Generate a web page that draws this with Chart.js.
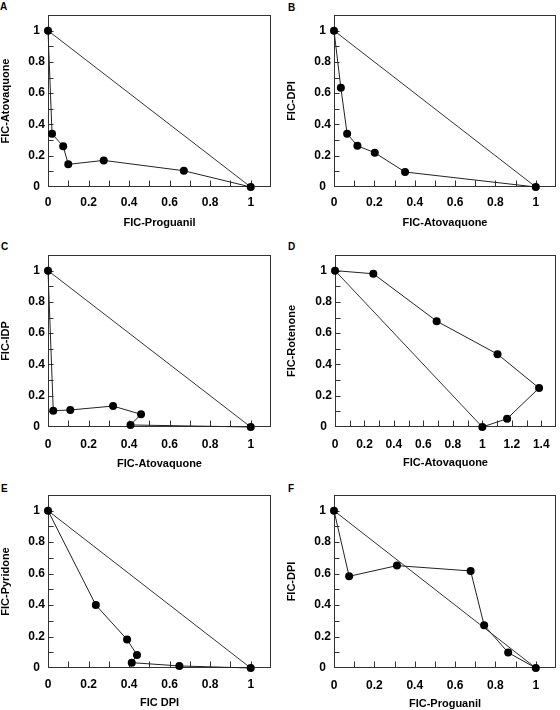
<!DOCTYPE html>
<html lang="en">
<head>
<meta charset="UTF-8">
<title>FIC isobolograms</title>
<script src="https://cdn.jsdelivr.net/npm/chart.js@4.4.1/dist/chart.umd.min.js"></script>
<style>
  html, body { margin: 0; padding: 0; background: #fff; }
  body { width: 560px; height: 710px; position: relative; overflow: hidden; font-family: "Liberation Sans", Arial, sans-serif; }
  canvas.panel { position: absolute; }
  .letter { position: absolute; font-size: 10px; font-weight: bold; line-height: 10px; color: #000; }
</style>
</head>
<body>
<div class="letter" style="left:0px;top:2px">A</div>
<div class="letter" style="left:288px;top:3px">B</div>
<div class="letter" style="left:1px;top:242px">C</div>
<div class="letter" style="left:288px;top:242px">D</div>
<div class="letter" style="left:1px;top:484px">E</div>
<div class="letter" style="left:288px;top:484px">F</div>

<canvas id="chart-a" class="panel" style="left:0px;top:0px" width="280" height="236"></canvas>
<canvas id="chart-b" class="panel" style="left:280px;top:0px" width="280" height="236"></canvas>
<canvas id="chart-c" class="panel" style="left:0px;top:236px" width="280" height="236"></canvas>
<canvas id="chart-d" class="panel" style="left:280px;top:236px" width="280" height="236"></canvas>
<canvas id="chart-e" class="panel" style="left:0px;top:472px" width="280" height="238"></canvas>
<canvas id="chart-f" class="panel" style="left:280px;top:472px" width="280" height="238"></canvas>

<script>
// tick labels
const ticksTo1 = [0, 0.2, 0.4, 0.6, 0.8, 1];
const ticksTo14 = [0, 0.2, 0.4, 0.6, 0.8, 1, 1.2, 1.4];
const minorStep = 0.1;

// line of additivity
const addX = [0, 1];
const addY = [1, 0];

// A: proguanil vs atovaquone
const aX = [0, 0.02, 0.075, 0.1, 0.275, 0.67, 1];
const aY = [1, 0.34, 0.26, 0.145, 0.17, 0.104, 0];
// B: atovaquone vs DPI
const bX = [0, 0.034, 0.065, 0.116, 0.202, 0.352, 1];
const bY = [1, 0.634, 0.34, 0.264, 0.219, 0.096, 0];
// C: atovaquone vs IDP
const cX = [0, 0.026, 0.11, 0.321, 0.459, 0.407, 1];
const cY = [1, 0.104, 0.109, 0.134, 0.081, 0.013, 0];
// D: atovaquone vs rotenone
const dX = [0, 0.26, 0.69, 1.103, 1.385, 1.168, 1];
const dY = [1, 0.98, 0.677, 0.466, 0.249, 0.053, 0];
// E: DPI vs pyridone
const eX = [0, 0.236, 0.39, 0.439, 0.413, 0.648, 1];
const eY = [1, 0.4, 0.181, 0.083, 0.034, 0.013, 0];
// F: proguanil vs DPI
const fX = [0, 0.075, 0.312, 0.677, 0.744, 0.863, 1];
const fY = [1, 0.583, 0.651, 0.617, 0.272, 0.098, 0];

const labelFont = { family: '"Liberation Sans", Arial, sans-serif', size: 12, weight: 'bold' };
const titleFont = { family: '"Liberation Sans", Arial, sans-serif', size: 11, weight: 'bold', lineHeight: 1 };

// box around the plot and inward tick marks
const framePlugin = {
    id: 'frame',
    beforeDatasetsDraw(chart) {
        const { ctx, chartArea: a, scales: { x, y } } = chart;
        const L = Math.round(a.left) + 0.5, R = Math.round(a.right) - 0.5;
        const T = Math.round(a.top) + 0.5, B = Math.round(a.bottom) - 0.5;
        ctx.save();
        ctx.strokeStyle = '#333';
        ctx.lineWidth = 1;
        ctx.strokeRect(L, T, R - L, B - T);
        ctx.beginPath();
        for (let i = 1; i * minorStep < x.max - 1e-6; i++) {
            const px = Math.round(x.getPixelForValue(i * minorStep)) + 0.5;
            ctx.moveTo(px, B);
            ctx.lineTo(px, B - 6);
        }
        for (let i = 1; i * minorStep < y.max - 1e-6; i++) {
            const py = Math.round(y.getPixelForValue(i * minorStep)) + 0.5;
            ctx.moveTo(L, py);
            ctx.lineTo(L + 5, py);
        }
        ctx.stroke();
        ctx.restore();
    }
};

function makePanel(id, xs, ys, xTitle, yTitle, xMax, xTicks, box) {
    const pts = xs.map((x, i) => ({ x: x, y: ys[i] }));
    const diag = addX.map((x, i) => ({ x: x, y: addY[i] }));
    return new Chart(document.getElementById(id), {
        type: 'scatter',
        data: {
            datasets: [{
                data: pts,
                showLine: true,
                borderColor: '#222',
                borderWidth: 1,
                pointRadius: 4,
                pointBackgroundColor: '#000',
                pointBorderColor: '#000',
                pointBorderWidth: 0,
                clip: false
            }, {
                data: diag,
                showLine: true,
                borderColor: '#333',
                borderWidth: 1,
                pointRadius: 0,
                clip: false
            }]
        },
        options: {
            responsive: false,
            animation: false,
            events: [],
            layout: { padding: { left: 0, top: box.top, right: box.right, bottom: 0 } },
            plugins: { legend: { display: false }, tooltip: { enabled: false } },
            scales: {
                x: {
                    type: 'linear', min: 0, max: xMax,
                    afterFit: s => { s.height = box.xh; },
                    afterBuildTicks: s => { s.ticks = xTicks.map(v => ({ value: v })); },
                    grid: { display: false, drawTicks: false },
                    border: { display: false },
                    ticks: { color: '#000', font: labelFont, padding: box.xpad, maxRotation: 0, callback: v => String(v) },
                    title: { display: true, text: xTitle, color: '#000', font: titleFont, padding: { top: 0, bottom: box.xtpad } }
                },
                y: {
                    type: 'linear', min: 0, max: 1.1,
                    afterFit: s => { s.width = box.yw; },
                    afterBuildTicks: s => { s.ticks = ticksTo1.map(v => ({ value: v })); },
                    grid: { display: false, drawTicks: false },
                    border: { display: false },
                    ticks: { color: '#000', font: labelFont, padding: 3, crossAlign: 'center', callback: v => String(v) },
                    title: { display: true, text: yTitle, color: '#000', font: titleFont, padding: { top: box.ytpad, bottom: 0 } }
                }
            }
        },
        plugins: [framePlugin]
    });
}

makePanel('chart-a', aX, aY, 'FIC-Proguanil', 'FIC-Atovaquone', 1.1, ticksTo1,
    { top: 15, right: 9, yw: 48, xh: 49, xpad: 8, xtpad: 8, ytpad: 0 });
makePanel('chart-b', bX, bY, 'FIC-Atovaquone', 'FIC-DPI', 1.1, ticksTo1,
    { top: 15, right: 1.5, yw: 54, xh: 49, xpad: 8, xtpad: 8, ytpad: 6 });
makePanel('chart-c', cX, cY, 'FIC-Atovaquone', 'FIC-IDP', 1.1, ticksTo1,
    { top: 19, right: 9, yw: 48, xh: 45, xpad: 10, xtpad: 3, ytpad: 0 });
makePanel('chart-d', dX, dY, 'FIC-Atovaquone', 'FIC-Rotenone', 1.5, ticksTo14,
    { top: 19, right: 2, yw: 55, xh: 45, xpad: 10, xtpad: 4, ytpad: 6 });
makePanel('chart-e', eX, eY, 'FIC DPI', 'FIC-Pyridone', 1.1, ticksTo1,
    { top: 23, right: 9, yw: 48, xh: 42, xpad: 9, xtpad: 2, ytpad: 0 });
makePanel('chart-f', fX, fY, 'FIC-Proguanil', 'FIC-DPI', 1.1, ticksTo1,
    { top: 23, right: 2, yw: 54, xh: 42, xpad: 10, xtpad: 1, ytpad: 6 });
</script>
</body>
</html>
